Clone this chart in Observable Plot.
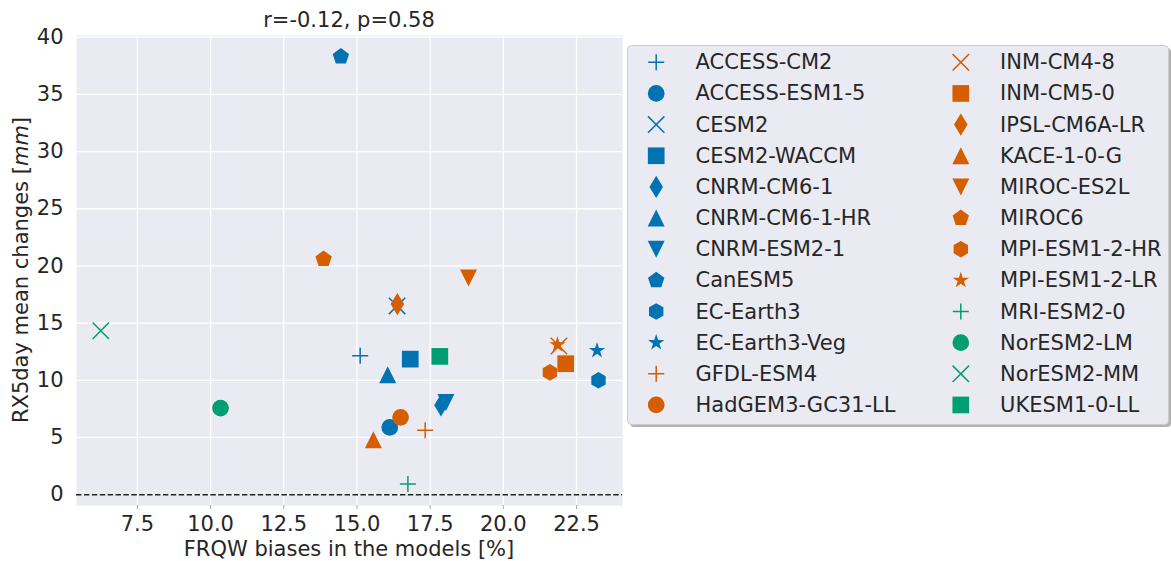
<!DOCTYPE html>
<html>
<head>
<meta charset="utf-8">
<script src="https://cdn.jsdelivr.net/npm/d3@7"></script>
<script src="https://cdn.jsdelivr.net/npm/@observablehq/plot@0.6"></script>
<style>
  body { margin: 0; background: #ffffff; font-family: "DejaVu Sans", sans-serif; }
  #wrap { position: relative; width: 1171px; height: 561px; overflow: hidden; }
  #chart { position: absolute; left: 0; top: 0; }
  #legend { position: absolute; left: 627px; top: 45px; }
</style>
</head>
<body>
<div id="wrap"><div id="chart"></div><svg id="legend"></svg></div>
<script>
// ---------------- data ----------------
const models = [
  "ACCESS-CM2", "ACCESS-ESM1-5", "CESM2", "CESM2-WACCM", "CNRM-CM6-1", "CNRM-CM6-1-HR",
  "CNRM-ESM2-1", "CanESM5", "EC-Earth3", "EC-Earth3-Veg", "GFDL-ESM4", "HadGEM3-GC31-LL",
  "INM-CM4-8", "INM-CM5-0", "IPSL-CM6A-LR", "KACE-1-0-G", "MIROC-ES2L", "MIROC6",
  "MPI-ESM1-2-HR", "MPI-ESM1-2-LR", "MRI-ESM2-0", "NorESM2-LM", "NorESM2-MM", "UKESM1-0-LL"
];
const frqwBias = [
  15.11, 16.12, 16.37, 16.82, 17.87, 16.05,
  18.04, 14.45, 23.25, 23.2, 17.33, 16.49,
  21.9, 22.13, 16.38, 15.56, 18.81, 13.86,
  21.59, 21.85, 16.74, 10.34, 6.25, 17.83
];
const rx5dayChange = [
  12.15, 5.88, 16.5, 11.85, 7.82, 10.49,
  8.05, 38.3, 10.0, 12.6, 5.62, 6.76,
  13.0, 11.45, 16.66, 4.81, 18.95, 20.6,
  10.69, 13.1, 0.93, 7.57, 14.33, 12.09
];
const markerCycle = ["plus", "circle", "times", "square", "thinDiamond",
                     "triangleUp", "triangleDown", "pentagon", "hexagon", "star"];
const palette = ["#0173b2", "#d55e00", "#029e73"];
const xTicks = [7.5, 10, 12.5, 15, 17.5, 20, 22.5];
const yTicks = [0, 5, 10, 15, 20, 25, 30, 35, 40];
const titleText = "r=-0.12, p=0.58";
const xLabelText = "FRQW biases in the models [%]";
const yLabelParts = ["RX5day mean changes [", "mm", "]"];

// ---------------- symbols ----------------
const K = 8.35;
const poly = (p, pts) => { pts.forEach(([x, y], j) => j ? p.lineTo(x, y) : p.moveTo(x, y)); p.closePath(); };
const symbolDefs = {
  plus: (p, k) => { const a = 8 * k; p.moveTo(-a, 0); p.lineTo(a, 0); p.moveTo(0, -a); p.lineTo(0, a); },
  times: (p, k) => { const a = 8.2 * k; p.moveTo(-a, -a); p.lineTo(a, a); p.moveTo(-a, a); p.lineTo(a, -a); },
  circle: (p, k) => { const a = 8.35 * k; p.moveTo(a, 0); p.arc(0, 0, a, 0, 2 * Math.PI); p.closePath(); },
  square: (p, k) => { const a = 8.35 * k; poly(p, [[-a, -a], [a, -a], [a, a], [-a, a]]); },
  thinDiamond: (p, k) => { const h = 11.2 * k, w = 6.8 * k; poly(p, [[0, -h], [w, 0], [0, h], [-w, 0]]); },
  triangleUp: (p, k) => { const a = 8.5 * k; poly(p, [[0, -a], [a, a], [-a, a]]); },
  triangleDown: (p, k) => { const a = 8.5 * k; poly(p, [[0, a], [a, -a], [-a, -a]]); },
  pentagon: (p, k) => { const R = 8.6 * k; poly(p, d3.range(5).map(j => { const t = (-90 + 72 * j) * Math.PI / 180; return [R * Math.cos(t), R * Math.sin(t)]; })); },
  hexagon: (p, k) => { const R = 8.3 * k; poly(p, d3.range(6).map(j => { const t = (-90 + 60 * j) * Math.PI / 180; return [R * Math.cos(t), R * Math.sin(t)]; })); },
  star: (p, k) => { const R = 8.6 * k, r = R * 0.382; poly(p, d3.range(10).map(j => { const t = (-90 + 36 * j) * Math.PI / 180, q = j % 2 ? r : R; return [q * Math.cos(t), q * Math.sin(t)]; })); }
};
const symbolOf = name => ({ draw(ctx, size) { symbolDefs[name](ctx, Math.sqrt(size / Math.PI) / K); } });
const lineMarkers = new Set(["plus", "times"]);

const rows = models.map((name, i) => ({
  name, x: frqwBias[i], y: rx5dayChange[i],
  marker: markerCycle[i % markerCycle.length],
  color: palette[Math.floor(i / markerCycle.length)]
}));

const dotMarks = rows.map(d => Plot.dot([d], {
  x: "x", y: "y", r: K, symbol: symbolOf(d.marker),
  fill: lineMarkers.has(d.marker) ? "none" : d.color,
  stroke: lineMarkers.has(d.marker) ? d.color : "none",
  strokeWidth: 1.5
}));

// ---------------- main plot ----------------
const W = 625, H = 561, ML = 76, MR = 3, MT = 35, MB = 56;
const plot = Plot.plot({
  width: W, height: H,
  marginLeft: ML, marginRight: MR, marginTop: MT, marginBottom: MB,
  style: { fontFamily: "DejaVu Sans, sans-serif", fontSize: "21px", color: "#262626", background: "transparent", overflow: "visible" },
  x: { domain: [5.42, 24.07] },
  y: { domain: [-0.95, 40.15] },
  marks: [
    Plot.frame({ fill: "#eaeaf2", stroke: "none" }),
    Plot.gridX(xTicks, { stroke: "#ffffff", strokeOpacity: 1, strokeWidth: 1.3 }),
    Plot.gridY(yTicks, { stroke: "#ffffff", strokeOpacity: 1, strokeWidth: 1.3 }),
    Plot.ruleY([0], { stroke: "#222222", strokeWidth: 1.5, strokeDasharray: "5.5,2.4" }),
    ...dotMarks,
    Plot.axisX(xTicks, { tickSize: 4, tickPadding: 7, stroke: "#aaaaaa", fill: "#262626", tickFormat: d => d.toFixed(1), label: null }),
    Plot.axisY(yTicks, { tickSize: 0, tickPadding: 13, fill: "#262626", label: null })
  ]
});
document.getElementById("chart").appendChild(plot);

const svg = d3.select(plot);
svg.append("text")
  .attr("x", (ML + W - MR) / 2).attr("y", 20)
  .attr("text-anchor", "middle").attr("dominant-baseline", "central")
  .attr("fill", "#262626").attr("font-size", 21)
  .text(titleText);
svg.append("text")
  .attr("x", (ML + W - MR) / 2).attr("y", 549)
  .attr("text-anchor", "middle").attr("dominant-baseline", "central")
  .attr("fill", "#262626").attr("font-size", 21)
  .text(xLabelText);
const yl = svg.append("text")
  .attr("transform", `translate(21,${(MT + H - MB) / 2}) rotate(-90)`)
  .attr("text-anchor", "middle").attr("dominant-baseline", "central")
  .attr("fill", "#262626").attr("font-size", 21);
yl.append("tspan").text(yLabelParts[0]);
yl.append("tspan").attr("font-style", "italic").text(yLabelParts[1]);
yl.append("tspan").text(yLabelParts[2]);

// ---------------- legend ----------------
const LW = 546, LH = 386, BW = 541, BH = 379;
const leg = d3.select("#legend").attr("width", LW).attr("height", LH)
  .attr("font-family", "DejaVu Sans, sans-serif").attr("font-size", 21);
leg.append("rect").attr("x", 3).attr("y", 3).attr("width", BW).attr("height", BH)
  .attr("rx", 4).attr("fill", "#000").attr("fill-opacity", 0.3);
leg.append("rect").attr("x", 0.5).attr("y", 0.5).attr("width", BW).attr("height", BH)
  .attr("rx", 4).attr("fill", "#eaeaf2").attr("stroke", "#cccccc").attr("stroke-width", 1);
const perCol = Math.ceil(rows.length / 2);
rows.forEach((d, i) => {
  const col = Math.floor(i / perCol), row = i % perCol;
  const g = leg.append("g").attr("transform", `translate(${29.2 + col * 304.6},${17.3 + row * 31.15})`);
  const p = d3.path();
  symbolOf(d.marker).draw(p, Math.PI * K * K);
  g.append("path").attr("d", p.toString())
    .attr("fill", lineMarkers.has(d.marker) ? "none" : d.color)
    .attr("stroke", lineMarkers.has(d.marker) ? d.color : "none")
    .attr("stroke-width", 1.5);
  g.append("text").attr("x", 39.3).attr("y", 0).attr("dominant-baseline", "central")
    .attr("fill", "#262626").text(d.name);
});
</script>
</body>
</html>
